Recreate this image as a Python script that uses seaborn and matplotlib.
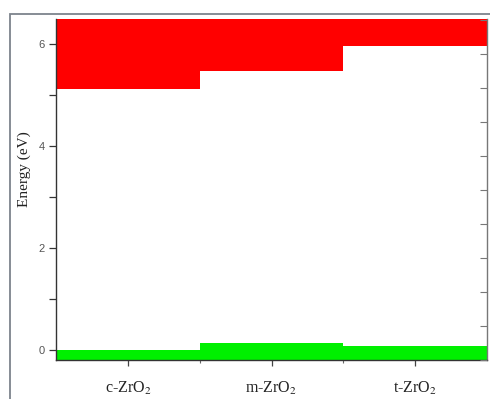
import matplotlib
matplotlib.use("Agg")
import matplotlib.pyplot as plt
from matplotlib.patches import Rectangle
from matplotlib.ticker import MultipleLocator, FixedLocator
import seaborn as sns
import pandas as pd

# Band edges of the three ZrO2 polymorphs (eV)
phases = ["c-ZrO$_2$", "m-ZrO$_2$", "t-ZrO$_2$"]
cb_min = [5.12, 5.48, 5.97]      # conduction band minimum
vb_max = [0.0, 0.13, 0.08]       # valence band maximum
e_low, e_high = -0.2, 6.5        # plotted energy window

df = pd.DataFrame({
    "phase": phases,
    "cb": cb_min,
    "vb": vb_max,
})
df["cb_height"] = e_high - df["cb"]
df["vb_height"] = df["vb"] - e_low

sns.set_theme(style="white")
plt.rcParams["font.family"] = ["Liberation Serif", "DejaVu Serif"]
plt.rcParams["mathtext.fontset"] = "stix"

fig = plt.figure(figsize=(4.9, 3.99), dpi=100)
ax = fig.add_axes([56 / 490, 1 - 360 / 399, 431 / 490, 341 / 399])

# conduction bands hang from the top of the window
sns.barplot(data=df, x="phase", y="cb_height", bottom=df["cb"].values,
            color="#ff0000", saturation=1, width=1.0, linewidth=0, ax=ax)
# valence bands rise from the bottom of the window
sns.barplot(data=df, x="phase", y="vb_height", bottom=e_low,
            color="#00f000", saturation=1, width=1.0, linewidth=0, ax=ax)

ax.set_xlim(-0.5, 2.5)
ax.set_ylim(e_low, e_high)
ax.set_xlabel("")
ax.set_ylabel("Energy (eV)", fontsize=11, color="#222222")
ax.yaxis.set_label_coords(-0.058, 0.56)

ax.yaxis.set_major_locator(MultipleLocator(2))
ax.yaxis.set_minor_locator(MultipleLocator(1))
ax.xaxis.set_minor_locator(FixedLocator([0.5, 1.5]))
ax.tick_params(axis="y", which="both", direction="out", left=True,
               length=5, width=0.9, color="#333333", labelsize=8,
               labelcolor="#555555", pad=3)
ax.tick_params(axis="x", which="major", direction="out", bottom=True,
               length=4, width=0.9, color="#444444", labelsize=11.5,
               labelcolor="#222222", pad=10)
ax.tick_params(axis="x", which="minor", direction="out", bottom=True,
               length=2, width=0.8, color="#666666")
for lab in ax.get_yticklabels():
    lab.set_family(["Liberation Sans", "DejaVu Sans"])

for side in ["left", "bottom"]:
    ax.spines[side].set_color("#333333")
    ax.spines[side].set_linewidth(1.0)
ax.spines["right"].set_color("#777777")
ax.spines["right"].set_linewidth(1.0)
ax.spines["top"].set_visible(False)

# unlabelled mirror scale on the right
ax2 = ax.twinx()
ax2.set_ylim(0, 10.03)
ax2.yaxis.set_major_locator(MultipleLocator(1))
ax2.tick_params(axis="y", direction="in", length=5, width=0.8,
                color="#777777", labelright=False, right=True)
ax2.grid(False)
for s in ax2.spines.values():
    s.set_visible(False)

# outer frame around the figure
fig.add_artist(Rectangle((10 / 490, -0.1), 1.2, 1.1 - 14 / 399,
                         transform=fig.transFigure, fill=False,
                         edgecolor="#7d848c", linewidth=1.3))

fig.savefig("out.png", dpi=100)
